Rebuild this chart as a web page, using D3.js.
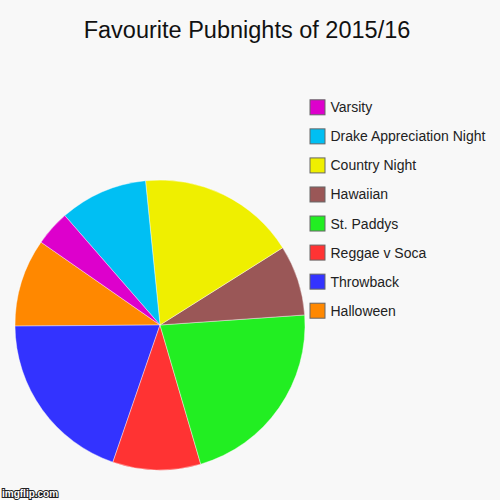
<!DOCTYPE html>
<html>
<head>
<meta charset="utf-8">
<script src="https://cdn.jsdelivr.net/npm/d3@7"></script>
<style>
  html, body { margin: 0; padding: 0; background: #f8f8f8; }
  svg { display: block; font-family: "Liberation Sans", Arial, sans-serif; }
</style>
</head>
<body>
<svg id="chart" width="500" height="500"></svg>
<script>
// data order as the legend lists it bottom-up
const categories = ['Halloween', 'Throwback', 'Reggae v Soca', 'St. Paddys', 'Hawaiian', 'Country Night', 'Drake Appreciation Night', 'Varsity'];
const votes = [5, 10, 5, 11, 4, 9, 5, 2];
const colors = ['#ff8800', '#3333ff', '#ff3333', '#22ee22', '#9a5757', '#efef00', '#00bff3', '#dd00cc'];

const svg = d3.select('#chart');
const W = 500, H = 500;

svg.append('rect').attr('width', W).attr('height', H).attr('fill', '#f8f8f8');

svg.append('text')
  .attr('x', 247)
  .attr('y', 38)
  .attr('text-anchor', 'middle')
  .style('font-size', '23.5px')
  .attr('fill', '#111')
  .text('Favourite Pubnights of 2015/16');

const cx = 160, cy = 325, radius = 145;
const start = -55.15 * Math.PI / 180;

// slices run counter-clockwise
const pie = d3.pie().sort(null).startAngle(start).endAngle(start - 2 * Math.PI);
const arc = d3.arc().innerRadius(0).outerRadius(radius);

const color = d3.scaleOrdinal().domain(categories).range(colors);

const rows = categories.map((c, i) => ({ name: c, value: votes[i] }));

svg.append('g')
  .attr('transform', `translate(${cx},${cy})`)
  .selectAll('path')
  .data(pie.value((d) => d.value)(rows))
  .join('path')
  .attr('d', arc)
  .attr('fill', (d) => color(d.data.name))
  .attr('stroke', '#ffffff')
  .attr('stroke-width', 0.4);

// legend, top-down is reverse data order
const legendNames = categories.slice().reverse();
const ly = d3.scalePoint().domain(legendNames).range([107.3, 310.7]);

const item = svg.append('g')
  .selectAll('g')
  .data(legendNames)
  .join('g')
  .attr('transform', (d) => `translate(309.5,${ly(d)})`);

item.append('rect')
  .attr('x', 0.5)
  .attr('y', -7.5)
  .attr('width', 15)
  .attr('height', 15)
  .attr('fill', (d) => color(d))
  .attr('stroke', '#666')
  .attr('stroke-width', 1);

item.append('text')
  .attr('x', 21)
  .attr('y', 5)
  .style('font-size', '14px')
  .attr('fill', '#222')
  .text((d) => d);

// watermark
svg.append('text')
  .attr('x', 2)
  .attr('y', 497)
  .style('font-size', '10px')
  .style('font-weight', 'bold')
  .attr('fill', '#fff')
  .attr('stroke', '#222')
  .attr('stroke-width', 2)
  .attr('paint-order', 'stroke')
  .text('imgflip.com');
</script>
</body>
</html>
